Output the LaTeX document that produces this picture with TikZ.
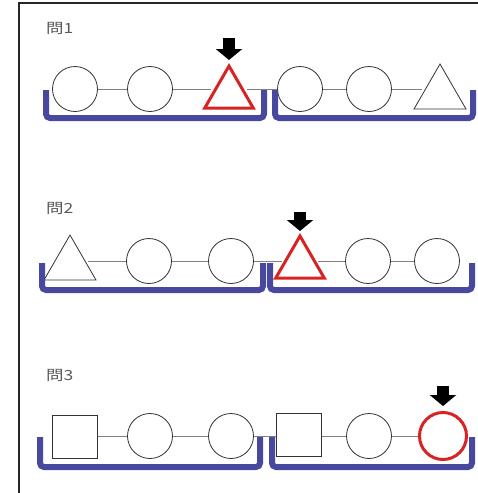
\documentclass[tikz,border=0pt]{standalone}
\usepackage{fontspec}
\newfontfamily\jpfont{Noto Sans CJK JP}
\usetikzlibrary{shapes.geometric,arrows.meta}
\definecolor{traycol}{RGB}{72,72,158}
\definecolor{pickcol}{RGB}{215,35,35}
\begin{document}
\begin{tikzpicture}[x=1pt,y=-1pt,
	ball/.style={circle, draw=black!80, fill=white, minimum size=45pt, inner sep=0pt, line width=0.8pt},
	cone/.style={regular polygon, regular polygon sides=3, draw=black!80, fill=white, minimum size=60pt, inner sep=0pt, line width=0.8pt},
	block/.style={rectangle, draw=black!80, fill=white, minimum width=45pt, minimum height=43pt, inner sep=0pt, line width=0.8pt},
	chosen/.style={draw=pickcol, line width=3pt},
	link/.style={draw=black!50, line width=0.7pt},
	tray/.style={draw=traycol, line width=6pt, rounded corners=4pt},
	pointer/.style={line width=12pt, -{Triangle[width=26pt,length=11pt]}},
	title/.style={text=black!65, font=\jpfont\fontsize{14}{16}\selectfont, anchor=west, inner sep=0pt}]
	\useasboundingbox (0,0) rectangle (477,493);
	% frame
	\draw[line width=1.4pt, draw=black!85] (19,495) -- (19,3) -- (480,3);

	% question 1
	\node (q1) at (46,28) [title] {\scalebox{1.25}[1]{問1}};
	\node (a11) at ( 75, 89) [ball] {};
	\node (a12) at (150, 89) [ball] {};
	\node (a13) at (229, 94) [cone, chosen, minimum size=56pt] {};
	\node (a14) at (300, 89) [ball] {};
	\node (a15) at (369, 89) [ball] {};
	\node (a16) at (440, 94) [cone] {};
	\draw[link] (a11) -- (a12);
	\draw[link] (a12.east) -- (a12.east -| a13.west);
	\draw[link] (a13.east |- a12.east) -- (a14.west);
	\draw[link] (a14) -- (a15);
	\draw[link] (a15.east) -- (a15.east -| a16.west);
	\draw[pointer] ([yshift=25pt]a13.north) -- ([yshift=3pt]a13.north);
	\draw[tray] (46,90) -- (46,118) -- (264,118) -- (264,90);
	\draw[tray] (275,90) -- (275,118) -- (473,118) -- (473,90);

	% question 2
	\node (q2) at (46,208) [title] {\scalebox{1.25}[1]{問2}};
	\node (a21) at ( 70, 265) [cone] {};
	\node (a22) at (149, 261) [ball] {};
	\node (a23) at (231, 261) [ball] {};
	\node (a24) at (300, 264) [cone, chosen, minimum size=56pt] {};
	\node (a25) at (368, 261) [ball] {};
	\node (a26) at (437, 261) [ball] {};
	\draw[link] (a22.west) -- (a22.west -| a21.east);
	\draw[link] (a22) -- (a23);
	\draw[link] (a23.east) -- (a23.east -| a24.west);
	\draw[link] (a24.east |- a25.west) -- (a25.west);
	\draw[link] (a25) -- (a26);
	\draw[pointer] ([yshift=21pt]a24.north) -- ([yshift=2pt]a24.north);
	\draw[tray] (42,263) -- (42,290) -- (263,290) -- (263,263);
	\draw[tray] (270,263) -- (270,290) -- (472,290) -- (472,263);

	% question 3
	\node (q3) at (46,375) [title] {\scalebox{1.25}[1]{問3}};
	\node (a31) at ( 75, 437) [block] {};
	\node (a32) at (150, 436) [ball] {};
	\node (a33) at (231, 436) [ball] {};
	\node (a34) at (299, 435) [block] {};
	\node (a35) at (369, 436) [ball] {};
	\node (a36) at (443, 436) [ball, chosen, minimum size=47pt] {};
	\draw[link] (a31.east |- a32.west) -- (a32.west);
	\draw[link] (a32) -- (a33);
	\draw[link] (a33.east) -- (a33.east -| a34.west);
	\draw[link] (a34.east |- a35.west) -- (a35.west);
	\draw[link] (a35) -- (a36);
	\draw[pointer] ([yshift=25pt]a36.north) -- ([yshift=5pt]a36.north);
	\draw[tray] (40,437) -- (40,467) -- (260,467) -- (260,437);
	\draw[tray] (272,437) -- (272,467) -- (472,467) -- (472,437);
\end{tikzpicture}
\end{document}
